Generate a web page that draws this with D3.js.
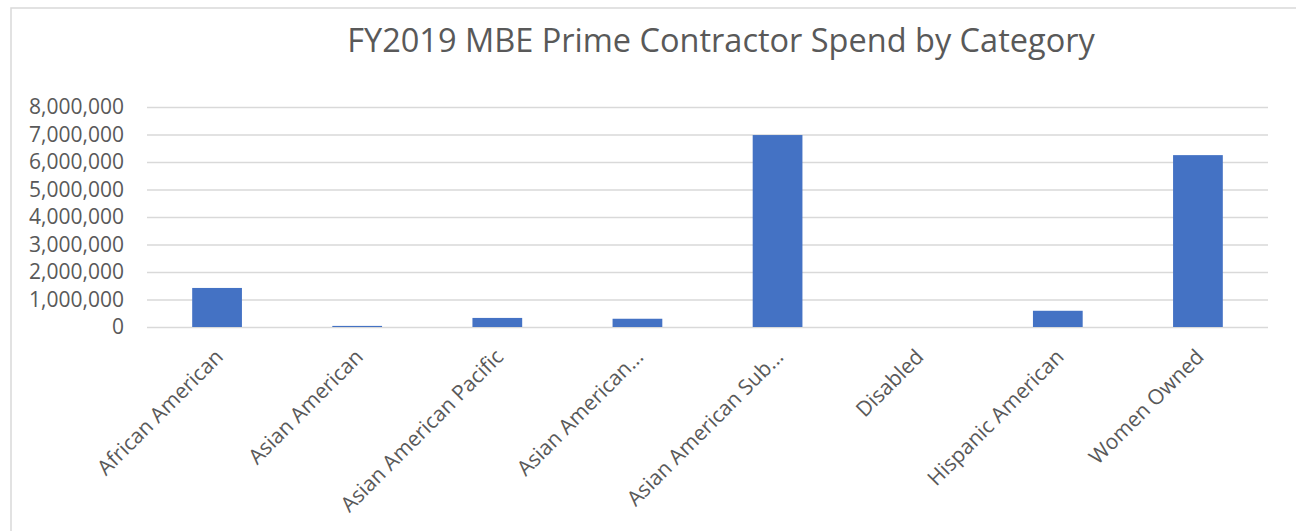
<!DOCTYPE html>
<html>
<head>
<meta charset="utf-8">
<script src="https://cdn.jsdelivr.net/npm/d3@7"></script>
<style>
  body { margin: 0; background: #fff; }
  svg { display: block; font-family: "Open Sans", sans-serif; }
</style>
</head>
<body>
<svg width="1296" height="531"></svg>
<script>
// ---- Dados
const categories = ['African American', 'Asian American', 'Asian American Pacific', 'Asian American...',
    'Asian American Sub...', 'Disabled', 'Hispanic American', 'Women Owned'];
const spend = [1420000, 40000, 330000, 300000, 6980000, 0, 590000, 6250000];
const yTicks = [0, 1000000, 2000000, 3000000, 4000000, 5000000, 6000000, 7000000, 8000000];

const margens = { left: 147, right: 28, top: 107, bottom: 204 };
const svg = d3.select('svg');
const width = 1296, height = 531;

// borda
svg.append('rect')
    .attr('x', 11).attr('y', 8)
    .attr('width', 1400).attr('height', 700)
    .attr('fill', 'none').attr('stroke', '#d9d9d9').attr('stroke-width', 1.5);

svg.append('text')
    .attr('x', 721).attr('y', 52)
    .attr('text-anchor', 'middle')
    .attr('font-size', 32.5)
    .attr('fill', '#595959')
    .text('FY2019 MBE Prime Contractor Spend by Category');

// ---- Escalas
const mapX = d3.scaleBand().domain(categories)
    .range([margens.left, width - margens.right])
    .paddingInner(0.645).paddingOuter(0.3225);
const mapY = d3.scaleLinear().domain([0, 8000000])
    .range([height - margens.bottom, margens.top]);

// ---- Eixos
const yAxis = d3.axisLeft(mapY)
    .tickValues(yTicks)
    .tickSize(-(width - margens.left - margens.right))
    .tickPadding(23)
    .tickFormat(d3.format(','));

svg.append('g')
    .attr('transform', `translate(${margens.left},0)`)
    .call(yAxis)
    .call(g => g.select('.domain').remove())
    .call(g => g.selectAll('.tick line').attr('stroke', '#d9d9d9').attr('stroke-width', 1.3))
    .call(g => g.selectAll('.tick text')
        .attr('font-size', 21).attr('fill', '#595959').attr('font-family', '"Open Sans", sans-serif'));

// ---- Barras
svg.append('g').selectAll('rect')
    .data(spend)
    .join('rect')
    .attr('x', (d, i) => mapX(categories[i]))
    .attr('width', mapX.bandwidth())
    .attr('y', d => mapY(d))
    .attr('height', d => mapY(0) - mapY(d))
    .attr('fill', '#4472c4');

// ---- Rótulos
svg.append('g').selectAll('text')
    .data(categories)
    .join('text')
    .attr('transform', d => `translate(${mapX(d) + mapX.bandwidth() / 2 + 2},${mapY(0) + 26}) rotate(-45)`)
    .attr('text-anchor', 'end')
    .attr('dy', '0.35em')
    .attr('font-size', 21)
    .attr('fill', '#595959')
    .text(d => d);
</script>
</body>
</html>
